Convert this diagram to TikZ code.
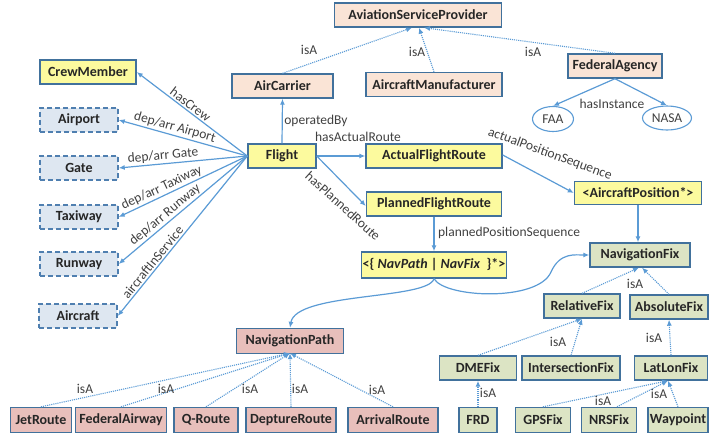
\documentclass[tikz,border=0pt]{standalone}
\usepackage{fontspec}
\setmainfont{Carlito}
\usetikzlibrary{arrows.meta,shapes.geometric}
\definecolor{edgeblue}{HTML}{5B9BD5}
\definecolor{boxline}{HTML}{41719C}
\definecolor{dashline}{HTML}{4F7FB0}
\definecolor{yfill}{HTML}{FCFA9E}
\definecolor{pfill}{HTML}{FAE4D6}
\definecolor{bfill}{HTML}{DEE7F1}
\definecolor{rfill}{HTML}{E8BFBB}
\definecolor{gfill}{HTML}{DCE4C4}
\definecolor{lbl}{HTML}{404040}
\tikzset{
  base/.style={draw=boxline, line width=1.4pt, minimum height=24pt, inner sep=0pt,
    font=\fontsize{14}{16}\selectfont\bfseries, text=black!85},
  ybox/.style={base, fill=yfill},
  pbox/.style={base, fill=pfill},
  dbox/.style={base, fill=bfill, draw=dashline, dash pattern=on 5pt off 3pt},
  rbox/.style={base, fill=rfill, minimum height=25pt},
  gbox/.style={base, fill=gfill},
  inst/.style={ellipse, draw=edgeblue, line width=1.1pt, fill=white, inner sep=0pt,
    font=\fontsize{13.5}{15}\selectfont, text=lbl},
  rel/.style={draw=edgeblue, line width=1.2pt, -{Latex[length=6pt,width=5pt]}},
  isa/.style={draw=edgeblue, line width=1.1pt, densely dotted, -{Latex[length=6pt,width=5pt]}},
  lab/.style={font=\fontsize{13.5}{15}\selectfont, text=lbl, inner sep=1.5pt},
}
\begin{document}
\begin{tikzpicture}[x=1pt,y=-1pt]
\useasboundingbox (0,0) rectangle (712,434);

% --- flight and its direct properties ---
\node[ybox, minimum width=96pt] (crew) at (88,72) {CrewMember};
\node[pbox, minimum width=101pt] (carrier) at (282.5,86) {AirCarrier};
\node[dbox, minimum width=78pt] (airport) at (79,120) {Airport};
\node[dbox, minimum width=78pt] (gate) at (79,168) {Gate};
\node[dbox, minimum width=78pt] (taxiway) at (79,217) {Taxiway};
\node[dbox, minimum width=78pt] (runway) at (79,264) {Runway};
\node[dbox, minimum width=78pt] (aircraft) at (78,316) {Aircraft};
\node[ybox, minimum width=68pt] (flight) at (282,156) {Flight};

% --- service providers ---
\node[pbox, minimum width=167pt] (asp) at (418,15) {AviationServiceProvider};
\node[pbox, minimum width=136pt] (manuf) at (434,84.5) {AircraftManufacturer};
\node[pbox, minimum width=94pt] (fedag) at (615,66) {FederalAgency};
\node[inst, minimum width=41pt, minimum height=25pt] (faa) at (553,119) {FAA};
\node[inst, minimum width=49pt, minimum height=24pt] (nasa) at (667,118) {NASA};

% --- routes ---
\node[ybox, minimum width=136pt] (actual) at (434,156) {ActualFlightRoute};
\node[ybox, minimum width=135pt] (planned) at (434,204) {PlannedFlightRoute};
\node[ybox, minimum width=127pt, minimum height=23pt] (acpos) at (638,193) {<AircraftPosition*>};
\node[ybox, minimum width=145pt, minimum height=26pt] (seq) at (434,265)
  {<\{ \textit{NavPath} | \textit{NavFix}~ \}*>};

% --- navigation fixes ---
\node[gbox, minimum width=100pt] (navfix) at (640,255) {NavigationFix};
\node[gbox, minimum width=76pt] (relfix) at (582,306) {RelativeFix};
\node[gbox, minimum width=78pt] (absfix) at (669,307) {AbsoluteFix};
\node[gbox, minimum width=77pt] (dmefix) at (478,368) {DMEFix};
\node[gbox, minimum width=98pt] (intfix) at (571,368) {IntersectionFix};
\node[gbox, minimum width=73pt] (latlon) at (671,368) {LatLonFix};
\node[gbox, minimum width=38pt, minimum height=25pt] (frd) at (478,420) {FRD};
\node[gbox, minimum width=55pt, minimum height=25pt] (gps) at (543,420) {GPSFix};
\node[gbox, minimum width=55pt, minimum height=25pt] (nrs) at (609,420) {NRSFix};
\node[gbox, minimum width=60pt, minimum height=25pt] (waypoint) at (678,420) {Waypoint};

% --- navigation paths ---
\node[rbox, minimum width=107pt] (navpath) at (290,341) {NavigationPath};
\node[rbox, minimum width=61pt] (jet) at (41,420) {JetRoute};
\node[rbox, minimum width=91pt] (fedair) at (121,420) {FederalAirway};
\node[rbox, minimum width=64pt] (qroute) at (206,420) {Q-Route};
\node[rbox, minimum width=90pt] (depart) at (291,420) {DeptureRoute};
\node[rbox, minimum width=90pt] (arrival) at (393,420) {ArrivalRoute};

% --- properties of a flight ---
\draw[rel] (flight.west) -- node[lab, sloped, above, pos=0.55] {hasCrew} (crew.east);
\draw[rel] (flight.west) -- node[lab, sloped, above, pos=0.58] {dep/arr Airport} (airport.east);
\draw[rel] (flight.west) -- node[lab, sloped, above, pos=0.65] {dep/arr Gate} (gate.east);
\draw[rel] (flight.west) -- node[lab, sloped, above, pos=0.64] {dep/arr Taxiway} (taxiway.east);
\draw[rel] (flight.west) -- node[lab, sloped, above, pos=0.6] {dep/arr Runway} (runway.east);
\draw[rel] (flight.west) -- node[lab, sloped, above, pos=0.69] {aircraftInService} (aircraft.east);
\draw[rel] (flight.north) -- node[lab, right] {operatedBy} (carrier.south);
\draw[rel] (flight.east) -- (actual.west);
\node[lab] (hasactual) at (358,137) {hasActualRoute};
\draw[rel] (flight.east) -- ([yshift=-2pt]planned.west);
\node[lab, rotate=-42] (hasplanned) at (343,206) {hasPlannedRoute};
\draw[rel] ([yshift=1pt]actual.east) -- (acpos.west);
\node[lab, rotate=-20] (actseq) at (550,154) {actualPositionSequence};
\draw[rel] (acpos.south) -- (navfix.north -| acpos.south);
\draw[rel] (planned.south) -- node[lab, right, xshift=2pt, yshift=1pt] {plannedPositionSequence} (seq.north);

% --- position sequence branches ---
\draw[rel] (seq.south) .. controls (428,300) and (296,292) .. (navpath.north);
\draw[rel] (seq.south) .. controls (445,298) and (538,302) .. (551,272)
  .. controls (560,252) and (575,255) .. (navfix.west);

% --- provider hierarchy ---
\draw[isa] (carrier.north) -- ([xshift=-6pt]asp.south);
\draw[isa] (manuf.north) -- ([xshift=1pt]asp.south);
\draw[isa] (fedag.north) -- ([xshift=6pt]asp.south);
\node[lab] at (309,50) {isA};
\node[lab] at (417,52) {isA};
\node[lab] at (533,52) {isA};
\draw[rel] (fedag.south) -- (faa.north);
\draw[rel] (fedag.south) -- (nasa.north);
\node[lab] at (612,104) {hasInstance};

% --- path hierarchy ---
\foreach \c in {jet,fedair,qroute,depart,arrival}
  \draw[isa] (\c.north) -- ([yshift=1pt]navpath.south);
\node[lab] at (85,389) {isA};
\node[lab] at (166,389) {isA};
\node[lab] at (250,389) {isA};
\node[lab] at (300,389) {isA};
\node[lab] at (377,390) {isA};

% --- fix hierarchy ---
\draw[isa] (relfix.north) -- ([xshift=-1pt]navfix.south);
\draw[isa] (absfix.north) -- ([xshift=2pt]navfix.south);
\node[lab] at (635,284) {isA};
\draw[isa] (dmefix.north) -- (relfix.south);
\draw[isa] (intfix.north) -- (relfix.south);
\node[lab] at (558,342) {isA};
\draw[isa] (latlon.north) -- (absfix.south);
\node[lab] at (654,338) {isA};
\draw[isa] (frd.north) -- (dmefix.south);
\node[lab] at (488,393) {isA};
\draw[isa] (gps.north) -- ([xshift=-3pt]latlon.south);
\draw[isa] ([xshift=8pt]nrs.north) -- ([xshift=-3pt]latlon.south);
\draw[isa] (waypoint.north) -- ([xshift=-3pt]latlon.south);
\node[lab] at (603,401) {isA};
\node[lab] at (659,394) {isA};
\end{tikzpicture}
\end{document}
